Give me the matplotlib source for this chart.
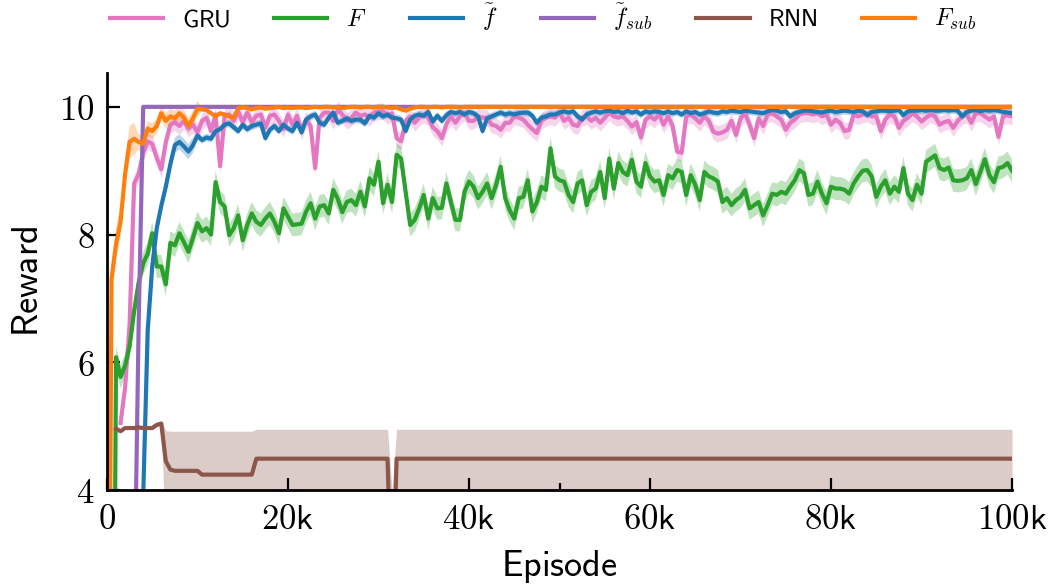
import numpy as np
import matplotlib
matplotlib.use("Agg")
import matplotlib.pyplot as plt
from matplotlib.ticker import FixedLocator

# evaluation every 500 episodes, 0 .. 100k
episodes = np.arange(0, 100001, 500)

labels = [r"$\mathsf{GRU}$", r"$F$", r"$\tilde{f}$", r"$\tilde{f}_{sub}$", r"$\mathsf{RNN}$", r"$F_{sub}$"]
colors = ["#e377c2", "#2ca02c", "#1f77b4", "#9467bd", "#8c564b", "#ff7f0e"]

nan = float("nan")

gru = [nan, nan, nan, 5.05, 5.6, 6.6, 8.8, 8.95, 9.28, 9.46,
       9.42, 9.2, 9.02, 9.45, 9.72, 9.76, 9.7, 9.78, 9.66, 9.72,
       9.6, 9.78, 9.83, 9.62, 9.88, 9.07, 9.86, 9.88, 9.78, 9.93,
       9.76, 9.91, 9.76, 9.86, 9.88, 9.67, 9.86, 9.88, 9.78, 9.65,
       9.88, 9.72, 9.86, 9.62, 9.80, 9.7, 9.04, 9.83, 9.91, 9.91,
       9.78, 9.96, 9.88, 9.78, 9.83, 9.91, 9.86, 9.88, 9.83, 9.91,
       9.93, 9.93, 9.86, 9.9, 9.51, 9.46, 9.78, 9.85, 9.75, 9.83,
       9.88, 9.83, 9.68, 9.62, 9.51, 9.73, 9.85, 9.75, 9.85, 9.91,
       9.78, 9.78, 9.85, 9.83, 9.83, 9.72, 9.7, 9.64, 9.75, 9.75,
       9.85, 9.83, 9.80, 9.72, 9.65, 9.59, 9.78, 9.83, 9.85, 9.83,
       9.91, 9.78, 9.83, 9.72, 9.70, 9.83, 9.85, 9.78, 9.83, 9.75,
       9.83, 9.91, 9.85, 9.83, 9.85, 9.78, 9.69, 9.76, 9.52, 9.8,
       9.85, 9.80, 9.88, 9.72, 9.85, 9.7, 9.30, 9.28, 9.85, 9.88,
       9.82, 9.75, 9.85, 9.78, 9.61, 9.58, 9.6, 9.64, 9.78, 9.56,
       9.82, 9.9, 9.72, 9.51, 9.82, 9.7, 9.88, 9.9, 9.85, 9.8,
       9.64, 9.75, 9.8, 9.88, 9.9, 9.9, 9.88, 9.9, 9.85, 9.88,
       9.72, 9.8, 9.75, 9.62, 9.64, 9.88, 9.85, 9.88, 9.9, 9.85,
       9.85, 9.62, 9.8, 9.88, 9.85, 9.67, 9.78, 9.83, 9.9, 9.85,
       9.77, 9.83, 9.88, 9.85, 9.72, 9.76, 9.78, 9.67, 9.78, 9.85,
       9.88, 9.75, 9.9, 9.9, 9.85, 9.8, 9.85, 9.53, 9.85, 9.87,
       9.85]

f_big = [-5.0, -5.0, 6.08, 5.77, 5.95, 6.25, 6.8, 7.25, 7.55, 7.7,
         8.02, 7.5, 7.5, 7.22, 7.87, 7.83, 8.02, 7.88, 7.73, 7.95,
         8.18, 8.05, 8.1, 8.0, 8.82, 8.51, 8.44, 7.99, 8.1, 8.3,
         7.91, 8.15, 8.33, 8.2, 8.15, 8.25, 8.33, 8.2, 8.02, 8.41,
         8.28, 8.15, 8.16, 8.17, 8.36, 8.49, 8.25, 8.44, 8.46, 8.33,
         8.70, 8.56, 8.35, 8.51, 8.54, 8.46, 8.67, 8.44, 8.88, 8.78,
         9.14, 8.49, 8.78, 8.51, 9.25, 9.19, 8.67, 8.15, 8.23, 8.41,
         8.62, 8.25, 8.57, 8.41, 8.42, 8.80, 8.51, 8.23, 8.23, 8.67,
         8.83, 8.75, 8.57, 8.67, 8.80, 8.57, 8.78, 9.06, 8.57, 8.38,
         8.25, 8.57, 8.59, 8.85, 8.36, 8.51, 8.75, 8.70, 9.35, 8.91,
         8.85, 8.83, 8.62, 8.51, 8.80, 8.85, 8.46, 8.67, 8.72, 8.98,
         8.57, 9.19, 8.72, 9.12, 8.98, 8.93, 9.17, 8.83, 8.75, 9.12,
         8.91, 8.83, 8.85, 8.62, 8.93, 8.88, 9.01, 8.98, 8.62, 8.93,
         8.78, 8.54, 8.98, 8.91, 8.88, 8.83, 8.51, 8.57, 8.46, 8.54,
         8.59, 8.70, 8.41, 8.46, 8.51, 8.30, 8.46, 8.64, 8.62, 8.67,
         8.64, 8.75, 8.85, 9.01, 8.96, 8.62, 8.64, 8.83, 8.64, 8.49,
         8.75, 8.72, 8.72, 8.70, 8.64, 8.80, 8.91, 9.00, 9.01, 8.91,
         8.59, 8.75, 8.85, 8.64, 8.75, 8.67, 9.04, 8.64, 8.54, 8.78,
         8.64, 9.14, 9.19, 9.24, 9.04, 9.01, 9.05, 8.85, 8.84, 8.85,
         8.88, 9.01, 8.79, 8.98, 9.18, 8.93, 8.82, 9.04, 9.06, 9.12,
         9.00]

f_tilde = [-5.0, -5.0, -5.0, -5.0, -5.0, -5.0, -5.0, -5.0, 3.9, 6.5,
           7.5, 8.1, 8.45, 8.75, 9.1, 9.4, 9.45, 9.38, 9.3, 9.4,
           9.55, 9.48, 9.52, 9.5, 9.62, 9.65, 9.72, 9.74, 9.68, 9.62,
           9.72, 9.65, 9.7, 9.72, 9.74, 9.51, 9.64, 9.7, 9.62, 9.72,
           9.66, 9.62, 9.75, 9.6, 9.8, 9.85, 9.88, 9.75, 9.72, 9.83,
           9.91, 9.75, 9.78, 9.82, 9.78, 9.8, 9.8, 9.74, 9.86, 9.83,
           9.9, 9.85, 9.88, 9.83, 9.82, 9.8, 9.62, 9.8, 9.86, 9.88,
           9.86, 9.92, 9.77, 9.86, 9.78, 9.87, 9.92, 9.9, 9.92, 9.88,
           9.92, 9.9, 9.85, 9.62, 9.82, 9.85, 9.88, 9.91, 9.88, 9.9,
           9.88, 9.9, 9.91, 9.91, 9.86, 9.75, 9.83, 9.85, 9.88, 9.88,
           9.91, 9.93, 9.91, 9.93, 9.85, 9.8, 9.88, 9.91, 9.93, 9.91,
           9.93, 9.94, 9.92, 9.93, 9.9, 9.94, 9.91, 9.93, 9.88, 9.93,
           9.91, 9.93, 9.92, 9.9, 9.93, 9.9, 9.92, 9.88, 9.93, 9.9,
           9.92, 9.88, 9.9, 9.93, 9.91, 9.9, 9.93, 9.92, 9.94, 9.93,
           9.92, 9.94, 9.93, 9.92, 9.91, 9.9, 9.93, 9.95, 9.94, 9.92,
           9.93, 9.85, 9.9, 9.92, 9.94, 9.94, 9.93, 9.92, 9.91, 9.93,
           9.94, 9.92, 9.93, 9.94, 9.93, 9.92, 9.94, 9.93, 9.87, 9.92,
           9.93, 9.94, 9.94, 9.93, 9.94, 9.95, 9.87, 9.93, 9.94, 9.94,
           9.95, 9.94, 9.95, 9.94, 9.94, 9.95, 9.94, 9.95, 9.94, 9.85,
           9.92, 9.94, 9.95, 9.93, 9.95, 9.94, 9.95, 9.94, 9.92, 9.91,
           9.9]

f_tilde_sub = [-5.0] * 6 + [2.0, 6.6] + [10.0] * 193

rnn = ([nan, nan, 4.96, 4.92, 4.97, 4.97, 4.97, 4.98, 4.97, 4.97,
        4.97, 5.02, 5.04, 4.45, 4.32]
       + [4.30] * 6 + [4.24] * 12 + [4.49] * 30 + [2.0] + [4.49] * 137)
rnn_upper = ([nan, nan, 4.98, 4.94, 4.99, 4.99, 4.99, 5.0, 4.99, 4.99,
              4.99, 5.05, 5.08, 4.93, 4.92]
             + [4.92] * 6 + [4.92] * 12 + [4.95] * 30 + [4.0] + [4.95] * 137)
rnn_lower = ([nan, nan, 4.94, 4.90, 4.95, 4.95, 4.95, 4.96, 4.95, 4.95,
              4.95, 4.99, 5.01, 3.0, 3.0]
             + [3.0] * 6 + [3.0] * 12 + [3.0] * 30 + [2.0] + [3.0] * 137)

f_big_sub = ([-5.0, 7.3, 7.85, 8.2, 8.95, 9.45, 9.5, 9.45, 9.42, 9.66,
              9.62, 9.7, 9.9, 9.78, 9.85, 9.82, 9.9, 9.83, 9.7, 9.82,
              9.97, 9.96, 9.95, 9.9, 9.85, 9.9, 9.88, 9.85, 9.83, 9.98,
              9.99, 9.98, 9.96, 9.98, 9.99, 9.97, 9.98, 9.99, 10.0, 9.98,
              9.99, 9.98, 9.99, 9.99, 9.98, 9.99, 10.0, 9.99, 10.0, 10.0,
              9.99, 10.0, 9.98, 9.99, 10.0, 10.0, 9.99, 10.0, 10.0, 9.99,
              10.0, 10.0, 9.99, 9.98, 9.99, 9.96, 9.94, 9.97, 9.99, 10.0,
              10.0, 9.99, 10.0, 10.0, 9.99, 10.0, 10.0, 10.0, 9.99, 10.0]
             + [10.0] * 121)

# half width of the shaded band
gru_spread = 0.13
f_big_spread = 0.18
f_tilde_spread = [0.12] * 20 + [0.06] * 181
f_big_sub_spread = [0.25] * 7 + [0.12] * 14 + [0.03] * 180

x_ticks = [0, 20000, 40000, 60000, 80000, 100000]
x_tick_labels = ["0", "20k", "40k", "60k", "80k", "100k"]
y_ticks = [4, 6, 8, 10]

plt.rcParams["mathtext.fontset"] = "cm"

fig = plt.figure(figsize=(10.52, 5.84), dpi=100)
ax = fig.add_axes([0.1017, 0.161, 0.8603, 0.714])

series = [gru, f_big, f_tilde, f_tilde_sub, rnn, f_big_sub]
spreads = [gru_spread, f_big_spread, f_tilde_spread, None, None, f_big_sub_spread]
for vals, spr, lab, col in zip(series, spreads, labels, colors):
    v = np.array(vals, dtype=float)
    if lab == r"$\mathsf{RNN}$":
        ax.fill_between(episodes, rnn_lower, rnn_upper, color=col, alpha=0.3, lw=0)
    elif spr is not None:
        s = np.array(spr, dtype=float)
        ax.fill_between(episodes, v - s, v + s, color=col, alpha=0.3, lw=0)
    ax.plot(episodes, v, color=col, lw=3.0, label=lab)

ax.set_xlim(0, 100000)
ax.set_ylim(4, 10.53)
ax.spines["right"].set_visible(False)
ax.spines["top"].set_visible(False)
ax.spines["left"].set_linewidth(2)
ax.spines["bottom"].set_linewidth(2)

ax.set_xticks(x_ticks)
ax.set_xticklabels([r"$\mathsf{%s}$" % t for t in x_tick_labels])
ax.xaxis.set_minor_locator(FixedLocator([50000]))
ax.set_yticks(y_ticks)
ax.set_yticklabels([r"$%d$" % t for t in y_ticks])
ax.tick_params(which="major", direction="in", length=9, width=1.6, labelsize=25, pad=9)
ax.tick_params(which="minor", direction="in", length=5, width=1.6)

ax.set_xlabel(r"$\mathsf{Episode}$", fontsize=26, labelpad=8)
ax.set_ylabel(r"$\mathsf{Reward}$", fontsize=26, labelpad=10)

fig.legend(loc="upper center", bbox_to_anchor=(0.516, 1.035), ncol=6, frameon=False,
           fontsize=17.5, handlelength=2.2, handletextpad=0.76, columnspacing=1.8)

plt.savefig("out.png", dpi=100)
plt.close()
